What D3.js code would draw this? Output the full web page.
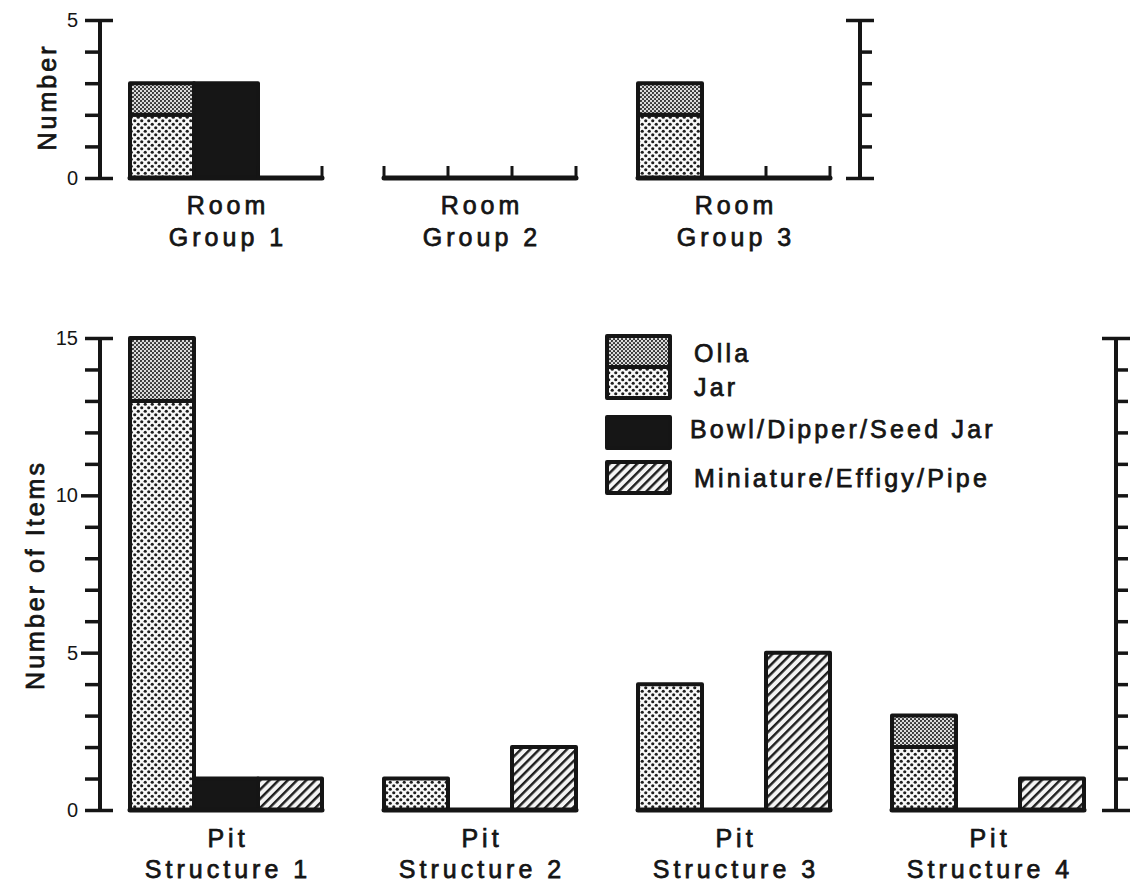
<!DOCTYPE html>
<html>
<head>
<meta charset="utf-8">
<script src="https://cdn.jsdelivr.net/npm/d3@7"></script>
<style>
  html, body { margin: 0; padding: 0; background: #ffffff; }
  svg { display: block; }
  text { font-family: "Liberation Sans", Arial, Helvetica, sans-serif; fill: #151515; }
</style>
</head>
<body>
<svg id="chart" width="1130" height="884"></svg>
<script>
// ---------------- DATA ----------------
const categories = ["Olla", "Jar", "Bowl/Dipper/Seed Jar", "Miniature/Effigy/Pipe"];

const roomGroups = ["Room Group 1", "Room Group 2", "Room Group 3"];
const roomLine1 = ["Room", "Room", "Room"];
const roomLine2 = ["Group 1", "Group 2", "Group 3"];
const roomOlla = [1, 0, 1];
const roomJar  = [2, 0, 2];
const roomBowl = [3, 0, 0];
const roomMini = [0, 0, 0];
const roomTickLabels = [0, 5];
const roomMax = 5;

const pitGroups = ["Pit Structure 1", "Pit Structure 2", "Pit Structure 3", "Pit Structure 4"];
const pitLine1 = ["Pit", "Pit", "Pit", "Pit"];
const pitLine2 = ["Structure 1", "Structure 2", "Structure 3", "Structure 4"];
const pitOlla = [2, 0, 0, 1];
const pitJar  = [13, 1, 4, 2];
const pitBowl = [1, 0, 0, 0];
const pitMini = [1, 2, 5, 1];
const pitTickLabels = [0, 5, 10, 15];
const pitMax = 15;

const slots = ["jarOlla", "bowl", "mini"];

// ---------------- SETUP ----------------
const svg = d3.select("#chart");
const defs = svg.append("defs");
const INK = "#151515";

// Olla: fine dense stipple (grey look)
const pOlla = defs.append("pattern").attr("id", "pOlla").attr("patternUnits", "userSpaceOnUse")
  .attr("width", 4).attr("height", 4);
pOlla.append("rect").attr("width", 4).attr("height", 4).attr("fill", "#dcdcdc");
pOlla.append("circle").attr("cx", 1).attr("cy", 1).attr("r", 1.05).attr("fill", "#2a2a2a");
pOlla.append("circle").attr("cx", 3).attr("cy", 3).attr("r", 1.05).attr("fill", "#2a2a2a");

// Jar: coarser staggered dots
const pJar = defs.append("pattern").attr("id", "pJar").attr("patternUnits", "userSpaceOnUse")
  .attr("width", 7).attr("height", 7);
pJar.append("rect").attr("width", 7).attr("height", 7).attr("fill", "#f8f8f8");
pJar.append("circle").attr("cx", 1.75).attr("cy", 1.75).attr("r", 1.6).attr("fill", "#1e1e1e");
pJar.append("circle").attr("cx", 5.25).attr("cy", 5.25).attr("r", 1.6).attr("fill", "#1e1e1e");

// Miniature: diagonal hatching
const pMini = defs.append("pattern").attr("id", "pMini").attr("patternUnits", "userSpaceOnUse")
  .attr("width", 6.5).attr("height", 6.5).attr("patternTransform", "rotate(45)");
pMini.append("rect").attr("width", 6.5).attr("height", 6.5).attr("fill", "#f4f4f4");
pMini.append("line").attr("x1", 1.2).attr("y1", 0).attr("x2", 1.2).attr("y2", 6.5)
  .attr("stroke", "#1e1e1e").attr("stroke-width", 2.5);

const fills = {
  "Olla": "url(#pOlla)",
  "Jar": "url(#pJar)",
  "Bowl/Dipper/Seed Jar": "#161616",
  "Miniature/Effigy/Pipe": "url(#pMini)"
};

// shared horizontal layout
const GROUP_STEP = 254, GROUP_W = 192, X0 = 130;
const TEXT_STROKE = 0.75;

function drawPanel(opts) {
  const { groups, line1, line2, olla, jar, bowl, mini, max, tickLabels,
          yTop, yBottom, rightAxisX, baseTicks, label, labelCenterY, labelX } = opts;
  const n = groups.length;
  const x = d3.scaleBand().domain(groups)
    .range([X0, X0 + GROUP_STEP * (n - 1) + GROUP_W])
    .paddingInner((GROUP_STEP - GROUP_W) / GROUP_STEP).paddingOuter(0);
  const xs = d3.scaleBand().domain(slots).range([0, x.bandwidth()]).padding(0);
  const y = d3.scaleLinear().domain([0, max]).range([yBottom, yTop]);

  const g = svg.append("g");

  // ---- left axis ----
  const leftX = 100;
  const axL = g.append("g").attr("transform", `translate(${leftX},0)`)
    .call(d3.axisLeft(y).tickValues(d3.range(0, max + 1)).tickFormat(d => tickLabels.includes(d) ? d : "").tickSizeOuter(0));
  axL.select(".domain").attr("stroke", INK).attr("stroke-width", 4).attr("d", `M0,${y(max)}V${y(0)}`);
  axL.selectAll(".tick line").attr("stroke", INK).attr("stroke-width", 3.5)
    .attr("x1", d => (d === 0 || d === max) ? 13 : 0)
    .attr("x2", d => (d === 0 || d === max) ? -15 : (tickLabels.includes(d) ? -19 : -15));
  axL.selectAll(".tick text").attr("x", -22).attr("font-size", 20).attr("fill", INK)
    .style("font-family", "'Liberation Sans', Arial, sans-serif");

  // ---- right axis ----
  const axR = g.append("g").attr("transform", `translate(${rightAxisX},0)`)
    .call(d3.axisRight(y).tickValues(d3.range(0, max + 1)).tickFormat("").tickSizeOuter(0));
  axR.select(".domain").attr("stroke", INK).attr("stroke-width", 4).attr("d", `M0,${y(max)}V${y(0)}`);
  axR.selectAll(".tick line").attr("stroke", INK).attr("stroke-width", 3.5)
    .attr("x1", d => (d === 0 || d === max) ? -14 : 0)
    .attr("x2", d => (d === 0 || d === max) ? 14 : 12);

  // ---- bars ----
  groups.forEach((grp, i) => {
    const gx = x(grp);
    const stacks = [
      { slot: "jarOlla", cat: "Jar", y0: 0, y1: jar[i] },
      { slot: "jarOlla", cat: "Olla", y0: jar[i], y1: jar[i] + olla[i] },
      { slot: "bowl", cat: "Bowl/Dipper/Seed Jar", y0: 0, y1: bowl[i] },
      { slot: "mini", cat: "Miniature/Effigy/Pipe", y0: 0, y1: mini[i] }
    ].filter(s => s.y1 > s.y0);
    g.selectAll(null).data(stacks).enter().append("rect")
      .attr("x", s => gx + xs(s.slot))
      .attr("width", xs.bandwidth())
      .attr("y", s => y(s.y1))
      .attr("height", s => y(s.y0) - y(s.y1))
      .attr("fill", s => fills[s.cat])
      .attr("stroke", INK).attr("stroke-width", 4)
      .attr("stroke-linejoin", "round");

    // baseline
    g.append("line")
      .attr("x1", gx).attr("x2", gx + x.bandwidth())
      .attr("y1", y(0)).attr("y2", y(0))
      .attr("stroke", INK).attr("stroke-width", 5).attr("stroke-linecap", "round");
    if (baseTicks) {
      const bounds = [0, xs.bandwidth(), 2 * xs.bandwidth(), x.bandwidth()];
      g.selectAll(null).data(bounds).enter().append("line")
        .attr("x1", b => gx + b).attr("x2", b => gx + b)
        .attr("y1", y(0)).attr("y2", y(0) - 12)
        .attr("stroke", INK).attr("stroke-width", 3);
    }

    // group labels
    const cx = gx + x.bandwidth() / 2 + 2;
    g.append("text").attr("x", cx).attr("y", opts.labelY1)
      .attr("text-anchor", "middle").attr("font-size", 25).attr("letter-spacing", 4)
      .attr("stroke", INK).attr("stroke-width", TEXT_STROKE)
      .text(line1[i]);
    g.append("text").attr("x", cx).attr("y", opts.labelY2)
      .attr("text-anchor", "middle").attr("font-size", 25).attr("letter-spacing", 4)
      .attr("stroke", INK).attr("stroke-width", TEXT_STROKE)
      .text(line2[i]);
  });

  // y label
  g.append("text")
    .attr("transform", `translate(${labelX},${labelCenterY}) rotate(-90)`)
    .attr("text-anchor", "middle").attr("font-size", 25).attr("letter-spacing", 3)
    .attr("stroke", INK).attr("stroke-width", TEXT_STROKE)
    .text(label);
}

drawPanel({
  groups: roomGroups, line1: roomLine1, line2: roomLine2,
  olla: roomOlla, jar: roomJar, bowl: roomBowl, mini: roomMini,
  max: roomMax, tickLabels: roomTickLabels,
  yTop: 20, yBottom: 178, rightAxisX: 860, baseTicks: true,
  label: "Number", labelCenterY: 97, labelX: 56,
  labelY1: 214, labelY2: 246
});

drawPanel({
  groups: pitGroups, line1: pitLine1, line2: pitLine2,
  olla: pitOlla, jar: pitJar, bowl: pitBowl, mini: pitMini,
  max: pitMax, tickLabels: pitTickLabels,
  yTop: 338, yBottom: 810, rightAxisX: 1116, baseTicks: false,
  label: "Number of Items", labelCenterY: 575, labelX: 44,
  labelY1: 847, labelY2: 878
});

// ---------------- LEGEND ----------------
const leg = svg.append("g").attr("transform", "translate(607,336)");
const boxW = 63, boxH = 31;
const legendRows = [
  { cat: "Olla", by: 0, ty: 26 },
  { cat: "Jar", by: boxH, ty: 60 },
  { cat: "Bowl/Dipper/Seed Jar", by: 81, ty: 102 },
  { cat: "Miniature/Effigy/Pipe", by: 126, ty: 151 }
];
leg.selectAll("rect").data(legendRows).enter().append("rect")
  .attr("x", 0).attr("y", d => d.by).attr("width", boxW).attr("height", boxH)
  .attr("fill", d => fills[d.cat]).attr("stroke", INK).attr("stroke-width", 4)
  .attr("stroke-linejoin", "round");
leg.selectAll("text").data(legendRows).enter().append("text")
  .attr("x", d => d.cat === "Bowl/Dipper/Seed Jar" ? 83 : 87).attr("y", d => d.ty)
  .attr("font-size", 25).attr("letter-spacing", 3.2)
  .attr("stroke", INK).attr("stroke-width", TEXT_STROKE)
  .text(d => d.cat);
</script>
</body>
</html>
